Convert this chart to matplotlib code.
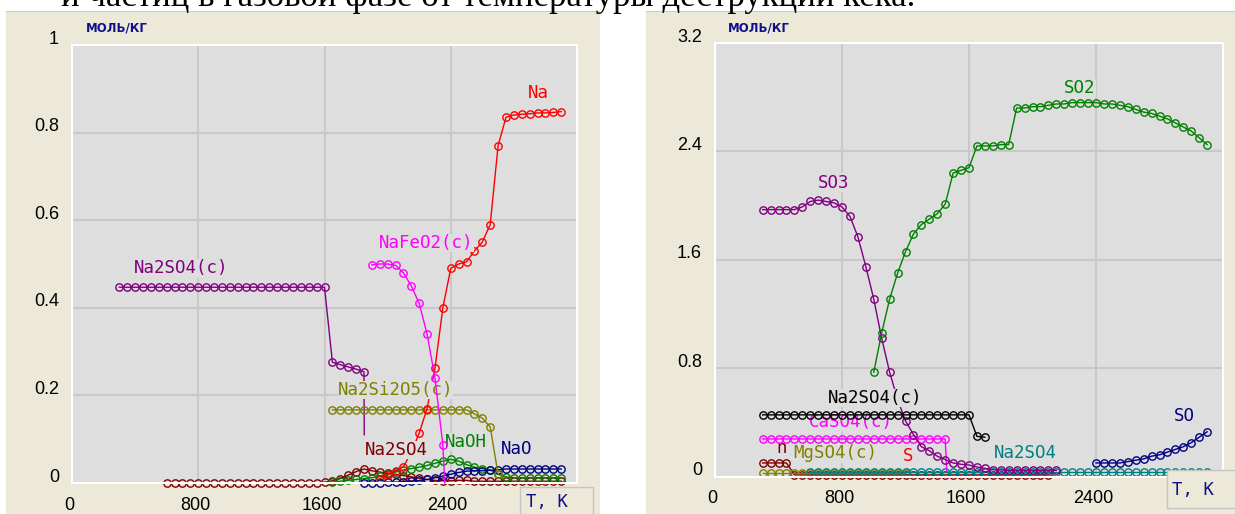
import matplotlib.pyplot as plt
from matplotlib.patches import Rectangle

W, H = 1235, 514
PLOT_BG = '#dedede'
PANEL_BG = '#ece9d8'
LABEL_FONT = 'DejaVu Sans Mono'
TICK_FONT = 'Liberation Sans'

# ---------------- left panel: sodium species, mol/kg ----------------
t_na2so4_c = list(range(300, 1900, 50))
na2so4_c = [0.447] * 27 + [0.276, 0.270, 0.265, 0.260, 0.254]

t_na2si2o5 = list(range(1650, 2750, 50))
na2si2o5 = [0.167] * 18 + [0.158, 0.148, 0.128, 0.020]

t_na = list(range(1950, 3150, 50))
na = [0.010, 0.018, 0.028, 0.037, 0.070, 0.114, 0.170, 0.262, 0.400, 0.490,
      0.500, 0.505, 0.530, 0.550, 0.590, 0.770, 0.835, 0.840, 0.842, 0.843,
      0.845, 0.845, 0.846, 0.848]

t_nafeo2 = list(range(1900, 2400, 50))
nafeo2 = [0.498, 0.500, 0.500, 0.497, 0.480, 0.450, 0.410, 0.340, 0.240, 0.087]

t_na2so4_g = list(range(600, 3150, 50))
na2so4_g = ([0.0] * 20 +
            [0.002, 0.005, 0.010, 0.018, 0.026, 0.032, 0.028, 0.025, 0.022, 0.020,
             0.017, 0.014, 0.011, 0.008, 0.006, 0.005, 0.005, 0.006, 0.006] +
            [0.004] * 12)

t_naoh = list(range(1650, 3150, 50))
naoh = [0.002, 0.004, 0.006, 0.008, 0.010, 0.012, 0.015, 0.020, 0.025, 0.030,
        0.033, 0.036, 0.040, 0.045, 0.050, 0.054, 0.050, 0.042, 0.036, 0.033,
        0.030, 0.020, 0.014] + [0.012] * 7

t_nao = list(range(1850, 3150, 50))
nao = [0.001, 0.001, 0.001, 0.002, 0.002, 0.003, 0.004, 0.006, 0.008, 0.012,
       0.016, 0.020, 0.024, 0.027, 0.028, 0.028, 0.029, 0.030] + [0.032] * 8

# ---------------- right panel: sulfur species, mol/kg ----------------
t_so3 = list(range(300, 2200, 50))
so3 = [1.97] * 5 + [1.99, 2.03, 2.04, 2.03, 2.02, 1.99, 1.92, 1.77, 1.55, 1.31,
                    1.02, 0.77, 0.57, 0.41, 0.31, 0.22, 0.19, 0.15, 0.125, 0.10,
                    0.09, 0.085, 0.07, 0.06, 0.05, 0.048, 0.046, 0.045, 0.045, 0.045,
                    0.045, 0.045, 0.045]

t_so2 = list(range(1000, 3150, 50))
so2 = [0.77, 1.06, 1.31, 1.50, 1.66, 1.79, 1.86, 1.90, 1.94, 2.01,
       2.24, 2.26, 2.28, 2.44, 2.44, 2.44, 2.45, 2.45,
       2.72, 2.72, 2.73, 2.73, 2.74, 2.75, 2.75, 2.76, 2.76, 2.76,
       2.76, 2.75, 2.75, 2.74, 2.73, 2.71, 2.69, 2.68, 2.66, 2.64,
       2.61, 2.58, 2.55, 2.50, 2.45]

t_na2so4_c2 = list(range(300, 1750, 50))
na2so4_c2 = [0.455] * 27 + [0.296, 0.290]

t_caso4 = list(range(300, 1500, 50))
caso4 = [0.277] * 24

t_mgso4 = list(range(300, 1250, 50))
mgso4 = [0.025] * 19

t_na2so4_g2 = list(range(600, 3150, 50))
na2so4_g2 = [0.03] * 51

t_n = list(range(300, 2150, 50))
n_low = [0.10] * 4 + [0.012] * 33

t_so = list(range(2400, 3150, 50))
so = [0.10, 0.10, 0.10, 0.10, 0.11, 0.12, 0.13, 0.15, 0.16, 0.18,
      0.20, 0.22, 0.25, 0.29, 0.33]


def fx(x):
    return x / W


def fy(y):
    return 1 - y / H


fig = plt.figure(figsize=(W / 100, H / 100), dpi=100)
fig.patch.set_facecolor('white')

# beige window panels
for x0, x1 in [(6, 600), (646, 1235)]:
    fig.add_artist(Rectangle((fx(x0), 0), fx(x1 - x0), 1 - 11 / H, transform=fig.transFigure,
                             fc=PANEL_BG, ec='none', zorder=-2))
    fig.add_artist(Rectangle((fx(x0), fy(12)), fx(x1 - x0), 1.5 / H, transform=fig.transFigure,
                             fc='#c8c8c8', ec='none', zorder=-1))

# caption line running off the top edge
fig.text(fx(915), fy(6), 'и частиц в газовой фазе от температуры деструкции кека.',
         ha='right', va='baseline', family='Liberation Serif', fontsize=25, color='black')

ax1 = fig.add_axes([fx(72), fy(483), fx(505), 438 / H])
ax2 = fig.add_axes([fx(715), fy(476.5), fx(508), 433.5 / H])


def frame(ax, ymax, yticks, ylabels):
    ax.set_facecolor(PLOT_BG)
    ax.set_xlim(0, 3200)
    ax.set_ylim(0, ymax)
    ax.set_xticks([800, 1600, 2400])
    ax.set_yticks(yticks)
    ax.grid(True, color='#c8c8c8', lw=1.5)
    ax.set_axisbelow(True)
    ax.tick_params(length=0, labelbottom=False, labelleft=False)
    for s in ax.spines.values():
        s.set_color('white')
        s.set_linewidth(1.5)
    for v, lab in zip(yticks, ylabels):
        ax.annotate(lab, xy=(0, v), xycoords=('axes fraction', 'data'), xytext=(-13, 6),
                    textcoords='offset pixels', ha='right', va='center',
                    family=TICK_FONT, fontsize=13, annotation_clip=False)
    for t, lab in zip([0, 800, 1600, 2400], ['0', '800', '1600', '2400']):
        ax.annotate(lab, xy=(t, 0), xycoords=('data', 'axes fraction'), xytext=(-3, -22),
                    textcoords='offset pixels', ha='center', va='center',
                    family=TICK_FONT, fontsize=13, annotation_clip=False)


def series(ax, t, v, color, tail=None, z=2):
    xs, ys = list(t), list(v)
    n = len(xs)
    if tail:
        xs.append(tail[0])
        ys.append(tail[1])
    ax.plot(xs, ys, color=color, lw=1.0, marker='o', ms=5.3, mfc='none', mew=1.0,
            markevery=list(range(n)), clip_on=False, zorder=z)


def tag(ax, t, v, text, color, z=3):
    ax.text(t, v, text, color=color, ha='center', va='center', family=LABEL_FONT,
            fontsize=12.5, zorder=z, bbox=dict(fc=PLOT_BG, ec='none', pad=0.15))


frame(ax1, 1.0, [0, 0.2, 0.4, 0.6, 0.8, 1.0], ['0', '0.2', '0.4', '0.6', '0.8', '1'])
frame(ax2, 3.2, [0, 0.8, 1.6, 2.4, 3.2], ['0', '0.8', '1.6', '2.4', '3.2'])

# left panel
series(ax1, t_na2so4_g, na2so4_g, '#800000')
series(ax1, t_naoh, naoh, '#008000')
series(ax1, t_nao, nao, '#000080')
series(ax1, t_na2so4_c, na2so4_c, '#800080', tail=(1852, 0.11))
series(ax1, t_na2si2o5, na2si2o5, '#808000')
series(ax1, t_na, na, '#ff0000')
series(ax1, t_nafeo2, nafeo2, '#ff00ff', tail=(2362, 0.0), z=4)

tag(ax1, 690, 0.49, 'Na2SO4(c)', '#800080')
tag(ax1, 2245, 0.548, 'NaFeO2(c)', '#ff00ff')
tag(ax1, 2955, 0.89, 'Na', '#ff0000')
tag(ax1, 2050, 0.212, 'Na2Si2O5(c)', '#808000')
tag(ax1, 2058, 0.075, 'Na2SO4', '#800000')
tag(ax1, 2495, 0.094, 'NaOH', '#008000')
tag(ax1, 2820, 0.078, 'NaO', '#000080')

# right panel
tag(ax2, 422, 0.21, 'n', '#800000', z=1.5)
series(ax2, t_n, n_low, '#800000')
series(ax2, t_mgso4, mgso4, '#808000')
series(ax2, t_na2so4_g2, na2so4_g2, '#008080')
series(ax2, t_caso4, caso4, '#ff00ff', tail=(1460, 0.04))
tag(ax2, 858, 0.40, 'CaSO4(c)', '#ff00ff', z=2.5)
series(ax2, t_na2so4_c2, na2so4_c2, '#000000', z=3)
series(ax2, t_so3, so3, '#800080')
series(ax2, t_so2, so2, '#008000')
series(ax2, t_so, so, '#000080')

tag(ax2, 745, 2.17, 'SO3', '#800080', z=4)
tag(ax2, 2298, 2.87, 'SO2', '#008000', z=4)
tag(ax2, 1006, 0.58, 'Na2SO4(c)', '#000000', z=4)
tag(ax2, 756, 0.17, 'MgSO4(c)', '#808000', z=4)
tag(ax2, 1216, 0.155, 'S', '#ff0000', z=4)
tag(ax2, 1953, 0.17, 'Na2SO4', '#008080', z=4)
tag(ax2, 2955, 0.45, 'SO', '#000080', z=4)

# units and axis-name boxes
for x in (86, 728):
    fig.text(fx(x), fy(28), 'МОЛЬ/КГ', ha='left', va='center', family='DejaVu Sans',
             fontweight='bold', fontsize=8.5, color='#10108c')
for x0, y0, x1, y1, cx, cy in [(520, 487, 593, 530, 547, 502), (1167, 470, 1245, 508, 1193, 490)]:
    fig.add_artist(Rectangle((fx(x0), fy(y1)), fx(x1 - x0), (y1 - y0) / H, transform=fig.transFigure,
                             fc=PANEL_BG, ec='#c4c4c4', lw=1, zorder=3))
    fig.text(fx(cx), fy(cy), 'T, K', ha='center', va='center', family=LABEL_FONT,
             fontsize=12.5, color='#10108c', zorder=4)

fig.savefig('out.png', dpi=100)
